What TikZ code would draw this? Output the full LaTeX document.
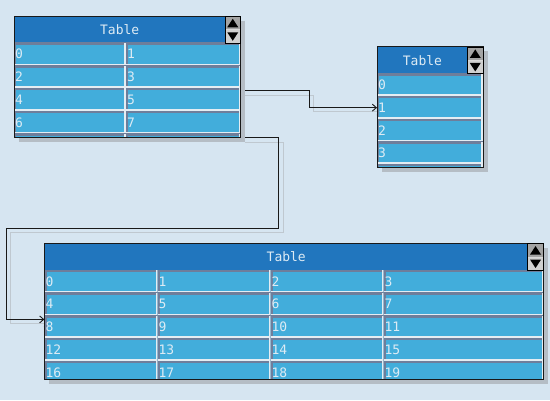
\documentclass[tikz,border=0pt]{standalone}
\usepackage{fontspec}
\newfontfamily\tabfont{DejaVu Sans Mono}
\usetikzlibrary{shadows,arrows.meta,calc}
\definecolor{bgblue}{HTML}{D6E5F1}
\definecolor{headblue}{HTML}{2176BE}
\definecolor{cellblue}{HTML}{42ADDB}
\definecolor{bevdark}{HTML}{6E7E9B}
\definecolor{bevlight}{HTML}{E4EDF3}
\definecolor{celltext}{HTML}{DDEBF4}
\definecolor{shadowgray}{HTML}{B5BDC5}
\definecolor{linkshadow}{HTML}{BFC8D0}
\definecolor{scrolldark}{HTML}{A4A4A4}
\definecolor{scrolllight}{HTML}{D0D0D0}
\pgfdeclarelayer{bg}
\pgfdeclarelayer{links}
\pgfsetlayers{bg,links,main}
\tikzset{
  tbl/.style    = {anchor=north west, inner sep=0, fill=cellblue,
                   drop shadow={shadow xshift=4.3pt, shadow yshift=-4.3pt, fill=shadowgray, opacity=1}},
  head/.style   = {anchor=north west, inner sep=0, minimum height=26.7pt, fill=headblue,
                   text=celltext, font=\tabfont\fontsize{13}{15}\selectfont},
  cell/.style   = {anchor=north west, inner xsep=1pt, inner ysep=0, text width=#1, align=left,
                   minimum height=22.7pt, fill=cellblue, text=celltext,
                   font=\tabfont\fontsize{13}{15}\selectfont,
                   path picture={
                     \draw[bevdark, line width=4pt] (path picture bounding box.south west) |- (path picture bounding box.north east);
                     \draw[bevlight, line width=4pt] (path picture bounding box.south west) -| (path picture bounding box.north east);}},
  scroll/.style = {anchor=north east, inner sep=0, minimum width=15.5pt, minimum height=26.7pt,
                   draw=black, line width=0.8pt, fill=scrolllight,
                   path picture={
                     \fill[scrolldark] (path picture bounding box.north west) rectangle (path picture bounding box.east);
                     \draw[white!85!black, line width=0.6pt] (path picture bounding box.west) -- (path picture bounding box.east);
                     \fill[black] ($(path picture bounding box.center)+(0pt,11pt)$) -- ++(-5.5pt,-8.5pt) -- ++(11pt,0pt) -- cycle;
                     \fill[black] ($(path picture bounding box.center)+(0pt,-11pt)$) -- ++(-5.5pt,8.5pt) -- ++(11pt,0pt) -- cycle;}},
  frame/.style  = {draw=black!90, line width=1pt},
  link/.style   = {draw=black!90, line width=0.9pt, -{Straight Barb[length=4pt,width=7pt]},
                   preaction={draw=linkshadow, transform canvas={xshift=4pt,yshift=-4pt}}}
}

\begin{document}
\begin{tikzpicture}[x=1pt,y=-1pt]
\useasboundingbox (0,0) rectangle (550,400);
\begin{pgfonlayer}{bg}
  \fill[bgblue] (0,0) rectangle (550,400);
\end{pgfonlayer}

% first table
\node[tbl, minimum width=226.5pt, minimum height=121.3pt] (t1) at (14,16) {};
\begin{scope}
  \clip (t1.north west) rectangle (t1.south east);
  \node[head, minimum width=211pt] (t1h) at (t1.north west) {Table};
  \foreach \r in {0,...,4}
    \foreach \c/\x/\w in {0/0/110, 1/112/112.5}{
      \pgfmathtruncatemacro\n{2*\r+\c}
      \ifnum\r<4 \def\txt{\n}\else\def\txt{}\fi
      \node[cell=\w pt] (t1-\r-\c) at ($(t1.north west)+(\x,26.7+22.7*\r)$) {\txt};
    }
\end{scope}
\draw[frame] (t1.north west) rectangle (t1.south east);
\node[scroll] (t1s) at (t1.north east) {};

% second table
\node[tbl, minimum width=106pt, minimum height=120.6pt] (t2) at (377,46.7) {};
\begin{scope}
  \clip (t2.north west) rectangle (t2.south east);
  \node[head, minimum width=90.5pt] (t2h) at (t2.north west) {Table};
  \foreach \r in {0,...,4}{
    \ifnum\r<4 \def\txt{\r}\else\def\txt{}\fi
    \node[cell=104pt] (t2-\r-0) at ($(t2.north west)+(0,26.7+22.7*\r)$) {\txt};
  }
\end{scope}
\draw[frame] (t2.north west) rectangle (t2.south east);
\node[scroll] (t2s) at (t2.north east) {};

% third table
\node[tbl, minimum width=499pt, minimum height=136pt] (t3) at (44.3,243.3) {};
\begin{scope}
  \clip (t3.north west) rectangle (t3.south east);
  \node[head, minimum width=483.5pt] (t3h) at (t3.north west) {Table};
  \foreach \r in {0,...,4}
    \foreach \c/\x/\w in {0/0/111, 1/113/111, 2/226/111, 3/339/158}{
      \pgfmathtruncatemacro\n{4*\r+\c}
      \node[cell=\w pt] (t3-\r-\c) at ($(t3.north west)+(\x,26.7+22.7*\r)$) {\n};
    }
\end{scope}
\draw[frame] (t3.north west) rectangle (t3.south east);
\node[scroll] (t3s) at (t3.north east) {};

% links
\begin{pgfonlayer}{links}
  \draw[link] ([yshift=-2.6pt]t1-2-1.north east) -| ($(t2-1-0.west)+(-68,0)$) -- (t2-1-0.west);
  \draw[link] (t1.south east) -| (278.7,228.3) -| ([xshift=-37.8pt,yshift=-4pt]t3-2-0.north west)
    -- ([yshift=-4pt]t3-2-0.north west);
\end{pgfonlayer}
\end{tikzpicture}
\end{document}
